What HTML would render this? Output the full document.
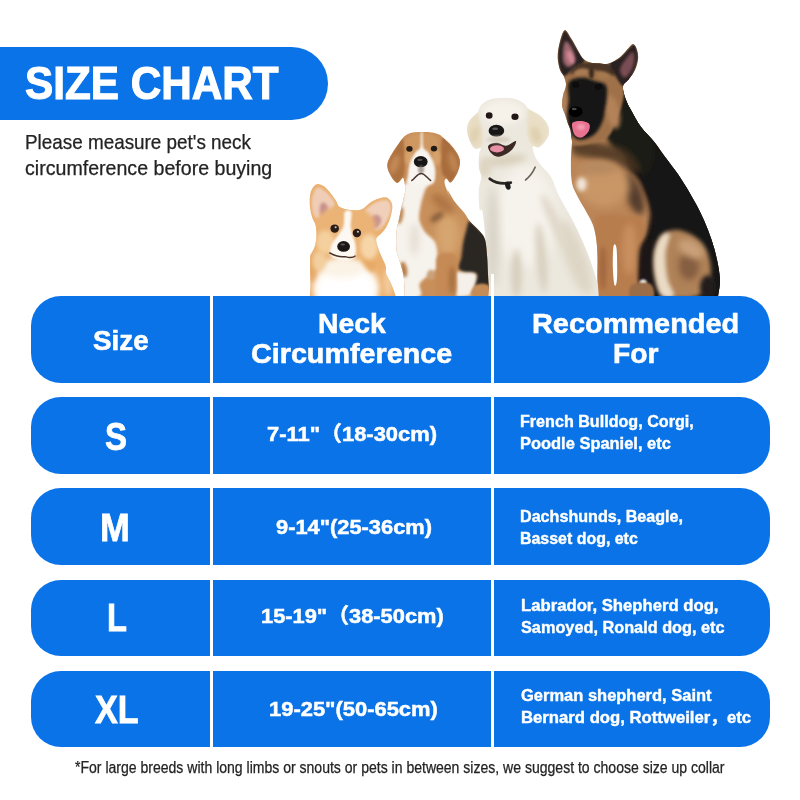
<!DOCTYPE html>
<html lang="en">
<head>
<meta charset="utf-8">
<title>Size Chart</title>
<style>
*{box-sizing:border-box;margin:0;padding:0}
html,body{width:800px;height:800px;background:#fff;overflow:hidden}
body{position:relative;font-family:"Liberation Sans","Noto Sans CJK SC",sans-serif}
.t{position:absolute;display:block;white-space:nowrap;line-height:1;transform-origin:0 0}
.b{color:#fff;font-weight:bold;-webkit-text-stroke-color:#fff}
.d{color:#232323;font-weight:normal;-webkit-text-stroke-color:#232323}
.banner{position:absolute;left:0;top:47px;width:328px;height:73px;background:#0a73e8;border-radius:0 36.4px 36.4px 0}
.row{position:absolute;left:30.5px;width:739.5px;background:#0a73e8;border-radius:30px}
.div{position:absolute;top:274px;height:478px;width:3px;background:#fff}
.dogs{position:absolute;left:0;top:0}
</style>
</head>
<body>
<header class="banner">
<h1 class="t b" style="left:25.19px;top:14.00px;font-size:45.33px;-webkit-text-stroke-width:1.1px;transform:scaleX(0.9326)">SIZE CHART</h1>
</header>
<p class="t d" style="left:24.94px;top:133.00px;font-size:19.44px;-webkit-text-stroke-width:0.25px;transform:scaleX(0.9706)">Please measure pet's neck</p>
<p class="t d" style="left:25.14px;top:159.00px;font-size:19.44px;-webkit-text-stroke-width:0.25px;transform:scaleX(1.0082)">circumference before buying</p>
<svg class="dogs" width="800" height="800" viewBox="0 0 800 800">
<defs>
<filter id="b05" x="-50%" y="-50%" width="200%" height="200%"><feGaussianBlur stdDeviation="0.5"/></filter>
<filter id="b1" x="-50%" y="-50%" width="200%" height="200%"><feGaussianBlur stdDeviation="1"/></filter>
<filter id="b15" x="-50%" y="-50%" width="200%" height="200%"><feGaussianBlur stdDeviation="1.5"/></filter>
<filter id="b2" x="-50%" y="-50%" width="200%" height="200%"><feGaussianBlur stdDeviation="2"/></filter>
<filter id="b3" x="-50%" y="-50%" width="200%" height="200%"><feGaussianBlur stdDeviation="3"/></filter>
<filter id="b4" x="-50%" y="-50%" width="200%" height="200%"><feGaussianBlur stdDeviation="4.5"/></filter>
<filter id="b6" x="-50%" y="-50%" width="200%" height="200%"><feGaussianBlur stdDeviation="6"/></filter>
<filter id="b9" x="-50%" y="-50%" width="200%" height="200%"><feGaussianBlur stdDeviation="9"/></filter>
<clipPath id="cAll"><rect x="0" y="0" width="800" height="297"/></clipPath>
<clipPath id="cC"><path d="M309.8 330.0C295.4 327.0 309.8 317.3 309.8 312.0C309.8 306.7 309.6 303.2 309.8 298.5C309.9 293.8 310.4 288.4 310.4 283.8C310.5 279.2 310.1 275.1 310.1 270.8C310.0 266.5 309.9 260.6 310.1 257.8C310.2 255.0 310.2 255.8 310.9 254.0C311.7 252.2 313.6 249.7 314.5 246.9C315.4 244.1 316.1 240.9 316.3 237.4C316.5 233.8 316.4 228.9 315.7 225.5C315.0 222.1 313.1 220.6 312.1 217.2C311.1 213.8 310.0 209.3 309.8 205.3C309.5 201.4 309.7 196.6 310.3 193.4C311.0 190.3 312.6 187.9 313.9 186.3C315.2 184.7 316.4 183.9 318.1 183.9C319.7 183.9 322.2 185.1 324.0 186.3C325.8 187.5 326.8 188.7 328.8 191.1C330.7 193.4 334.1 197.9 335.9 200.6C337.7 203.2 337.3 205.5 339.7 207.1C342.1 208.7 346.5 209.7 350.1 210.1C353.8 210.5 357.9 210.9 361.4 209.5C365.0 208.1 368.0 203.7 371.5 201.8C375.0 199.8 379.4 198.2 382.2 197.6C385.0 197.0 386.5 196.9 388.1 198.2C389.8 199.5 391.9 202.1 392.3 205.3C392.7 208.5 391.6 213.4 390.5 217.2C389.4 221.0 387.3 225.1 385.8 227.9C384.2 230.7 382.6 232.0 381.0 233.8C379.4 235.6 376.9 236.6 376.3 238.6C375.7 240.5 376.7 242.9 377.4 245.7C378.2 248.5 379.6 251.8 381.0 255.2C382.4 258.6 384.9 262.7 385.8 265.9C386.6 269.0 385.3 271.1 386.2 274.1C387.1 277.1 389.7 280.8 391.1 283.8C392.4 286.8 393.5 289.5 394.3 292.0C395.1 294.4 395.7 295.1 395.9 298.5C396.2 301.8 395.9 306.7 395.9 312.0C395.9 317.3 410.3 327.0 395.9 330.0C381.6 333.0 324.1 333.0 309.8 330.0Z"/></clipPath>
<clipPath id="cB"><path d="M404.7 330.0C390.8 327.0 404.7 317.6 404.7 312.0C404.7 306.4 404.9 301.8 404.7 296.5C404.6 291.2 404.4 284.2 404.0 280.0C403.6 275.7 403.2 274.2 402.5 271.0C401.7 267.7 400.5 264.0 399.5 260.5C398.5 257.0 397.0 254.7 396.5 250.0C396.0 245.2 396.0 237.5 396.5 232.0C397.0 226.5 398.5 222.0 399.5 217.0C400.5 212.0 402.2 203.3 402.5 202.0C402.8 200.7 401.2 210.0 401.4 209.4C401.6 208.7 403.0 201.3 403.6 198.1C404.3 194.9 405.2 193.1 405.3 190.2C405.4 187.4 404.7 183.3 404.2 181.2C403.7 179.2 403.7 177.6 402.5 177.9C401.3 178.2 398.9 183.5 396.9 182.9C394.8 182.4 391.7 177.6 390.1 174.5C388.5 171.4 386.9 167.9 387.3 164.4C387.7 160.8 389.8 157.4 392.4 153.1C394.9 148.8 399.9 141.7 402.5 138.5C405.1 135.3 406.1 135.0 408.1 134.0C410.2 133.0 412.4 132.6 414.9 132.3C417.3 132.0 419.9 132.0 422.7 132.0C425.6 132.0 429.1 132.0 431.7 132.4C434.4 132.8 436.6 133.4 438.5 134.2C440.4 135.0 440.6 135.2 443.0 137.4C445.4 139.6 450.3 143.7 453.1 147.5C455.9 151.2 459.1 155.7 459.9 159.9C460.6 164.0 459.1 168.5 457.6 172.2C456.1 176.0 452.7 181.3 450.9 182.4C449.0 183.4 447.4 178.2 446.4 178.4C445.3 178.6 444.1 180.4 444.7 183.5C445.2 186.6 449.3 195.9 449.7 197.0C450.2 198.1 446.6 189.2 447.5 190.0C448.4 190.8 452.2 198.2 455.0 202.0C457.7 205.7 461.5 209.2 464.0 212.5C466.5 215.7 467.5 218.5 470.0 221.5C472.5 224.5 476.5 227.5 479.0 230.5C481.5 233.5 483.6 235.0 485.0 239.5C486.4 244.0 486.7 251.7 487.2 257.5C487.7 263.2 487.7 269.0 488.0 274.0C488.2 279.0 488.7 283.7 488.7 287.5C488.8 291.2 488.4 292.4 488.3 296.5C488.2 300.6 488.3 306.4 488.3 312.0C488.3 317.6 502.2 327.0 488.3 330.0C474.4 333.0 418.7 333.0 404.7 330.0Z"/></clipPath>
<clipPath id="cG"><path d="M487.8 330.0C469.4 327.0 487.8 317.4 487.8 312.0C487.8 306.6 487.9 303.8 487.8 297.5C487.7 291.1 487.6 281.3 487.3 273.8C487.0 266.4 486.7 259.8 486.3 252.8C485.9 245.8 485.6 238.8 484.9 231.8C484.3 224.8 483.2 214.4 482.3 210.8C481.5 207.2 480.4 212.6 479.7 210.0C479.1 207.4 478.8 199.0 478.7 195.0C478.6 191.0 478.8 189.0 479.3 186.0C479.7 183.0 481.4 180.0 481.4 177.0C481.3 174.0 479.4 171.7 479.0 168.0C478.6 164.2 478.7 157.8 479.0 154.5C479.3 151.2 481.5 149.2 480.8 148.2C480.0 147.2 476.4 149.9 474.5 148.5C472.6 147.0 470.5 142.7 469.2 139.5C468.0 136.2 466.9 132.2 467.0 129.0C467.1 125.7 468.2 122.7 470.0 120.0C471.7 117.2 475.6 115.0 477.5 112.5C479.4 110.0 479.2 107.1 481.2 105.0C483.2 102.9 485.9 100.9 489.5 99.7C493.1 98.5 498.7 97.9 503.0 97.8C507.2 97.7 511.5 98.0 515.0 99.0C518.5 99.9 521.7 101.9 524.0 103.5C526.2 105.1 526.0 106.9 528.5 108.7C531.0 110.6 536.1 112.6 539.0 114.7C541.9 116.9 544.0 118.9 545.7 121.5C547.4 124.1 549.1 127.5 549.2 130.5C549.3 133.5 548.2 136.7 546.5 139.5C544.8 142.3 541.2 146.2 539.0 147.3C536.7 148.4 533.8 145.3 533.0 146.2C532.1 147.2 533.3 150.7 533.9 153.0C534.5 155.2 535.3 157.4 536.7 159.7C538.2 162.1 540.4 164.4 542.7 167.2C545.1 170.1 548.4 172.4 551.0 177.0C553.6 181.6 555.3 188.5 558.5 195.0C561.7 201.5 566.8 209.5 570.3 216.1C573.8 222.6 576.6 228.3 579.5 234.4C582.3 240.6 585.0 246.7 587.4 252.8C589.8 258.9 592.2 265.9 593.9 271.2C595.6 276.4 596.8 280.0 597.6 284.3C598.4 288.7 598.5 292.8 598.7 297.5C598.8 302.1 598.7 306.6 598.7 312.0C598.7 317.4 617.1 327.0 598.7 330.0C580.2 333.0 506.3 333.0 487.8 330.0Z"/></clipPath>
<clipPath id="cS"><path d="M598.6 330.0C578.7 327.0 598.6 317.0 598.6 312.0C598.6 307.0 598.7 305.5 598.6 300.0C598.4 294.5 597.7 285.8 597.5 278.7C597.3 271.7 597.7 263.9 597.5 257.5C597.3 251.1 597.1 245.8 596.4 240.5C595.7 235.2 594.8 230.2 593.2 225.6C591.7 221.0 589.4 217.5 586.9 212.9C584.4 208.3 580.9 203.0 578.4 198.0C575.9 193.0 573.2 189.1 572.0 183.1C570.8 177.1 570.9 168.6 570.9 161.9C570.9 155.1 571.9 146.8 572.0 142.7C572.1 138.7 571.5 139.6 571.2 137.5C571.0 135.4 571.1 132.5 570.5 130.0C569.9 127.5 568.4 125.0 567.5 122.5C566.6 120.0 566.1 117.7 565.2 115.0C564.4 112.2 562.6 109.2 562.2 106.0C561.9 102.7 562.4 99.0 563.0 95.5C563.6 92.0 565.9 88.2 566.0 85.0C566.1 81.7 564.7 78.5 563.7 76.0C562.7 73.5 561.0 73.0 560.0 70.0C559.0 67.0 557.9 62.2 557.7 58.0C557.6 53.7 558.1 49.1 559.2 44.5C560.4 39.9 562.5 31.2 564.5 30.2C566.5 29.2 569.1 35.4 571.2 38.5C573.4 41.6 575.4 45.7 577.2 49.0C579.1 52.2 580.4 55.7 582.5 58.0C584.6 60.2 587.2 61.6 590.0 62.5C592.7 63.4 596.0 63.0 599.0 63.2C602.0 63.4 604.5 64.7 608.0 63.7C611.5 62.7 616.5 59.9 620.0 57.2C623.5 54.5 626.7 49.7 629.0 47.5C631.2 45.3 632.1 43.7 633.5 44.2C634.9 44.7 636.5 47.9 637.2 50.5C638.0 53.0 638.4 56.2 638.0 59.5C637.6 62.7 636.5 66.7 635.0 70.0C633.5 73.2 631.0 76.2 629.0 79.0C627.0 81.7 623.5 83.0 623.0 86.5C622.5 90.0 624.5 95.7 626.0 100.0C627.5 104.2 629.5 107.5 632.0 112.0C634.5 116.5 637.2 121.9 641.0 127.0C644.8 132.1 650.8 137.6 654.9 142.7C659.0 147.9 661.6 152.3 665.5 157.6C669.4 162.9 674.4 169.0 678.2 174.6C682.1 180.3 685.3 185.6 688.9 191.6C692.4 197.6 696.3 204.4 699.5 210.7C702.7 217.1 705.5 223.5 708.0 229.9C710.5 236.2 712.6 242.6 714.4 249.0C716.1 255.4 717.7 262.5 718.6 268.1C719.5 273.8 720.1 277.7 719.9 283.0C719.7 288.3 717.9 295.2 717.6 300.0C717.2 304.8 717.6 307.0 717.6 312.0C717.6 317.0 737.4 327.0 717.6 330.0C697.7 333.0 618.4 333.0 598.6 330.0Z"/></clipPath>
</defs>
<g clip-path="url(#cAll)">
<g filter="url(#b05)"><g clip-path="url(#cS)">
<rect x="550" y="25" width="175" height="275" fill="#bb8557"/>
<path d="M615.5 82.0C613.0 85.5 621.4 82.9 623.0 95.5C624.6 108.1 622.3 143.0 625.1 157.6C628.0 172.2 635.9 174.3 640.0 183.1C644.1 192.0 648.5 202.6 649.6 210.7C650.6 218.9 648.0 225.6 646.4 232.0C644.8 238.4 641.1 237.7 640.0 249.0C638.9 260.3 625.8 291.5 640.0 300.0C654.2 308.5 710.8 317.7 725.0 300.0C739.2 282.3 732.1 218.5 725.0 193.7C717.9 169.0 693.5 165.4 682.5 151.2C671.5 137.1 666.4 121.8 659.0 109.0C651.6 96.2 645.2 79.0 638.0 74.5C630.7 70.0 618.0 78.5 615.5 82.0Z" fill="#1d1918" filter="url(#b2)"/>
<path d="M620.0 89.5C614.8 93.4 616.1 126.1 618.7 138.5C621.4 150.9 630.8 154.8 635.7 164.0C640.7 173.2 645.3 184.5 648.5 193.7C651.7 203.0 654.5 211.5 654.9 219.2C655.2 227.0 652.0 234.1 650.6 240.5C649.2 246.9 646.7 247.6 646.4 257.5C646.0 267.4 635.4 292.9 648.5 300.0C661.6 307.1 712.2 314.2 725.0 300.0C737.7 285.8 730.7 238.0 725.0 215.0C719.3 192.0 703.5 178.5 691.0 161.9C678.5 145.2 661.8 127.1 650.0 115.0C638.2 102.9 625.2 85.6 620.0 89.5Z" fill="#151312" filter="url(#b1)"/>
<path d="M615.5 88.0C611.5 88.0 612.0 102.0 611.0 109.0C610.0 116.0 610.3 125.8 609.5 130.0C608.7 134.2 605.5 131.4 606.0 134.2C606.5 137.1 608.8 143.1 612.4 147.0C615.9 150.9 621.9 152.7 627.2 157.6C632.6 162.6 639.6 177.1 644.2 176.7C648.9 176.4 653.8 163.3 654.9 155.5C655.9 147.7 653.9 137.8 650.6 130.0C647.3 122.2 640.8 116.0 635.0 109.0C629.1 102.0 619.5 88.0 615.5 88.0Z" fill="#1e1a19" filter="url(#b2)"/>
<path d="M574.1 138.5C578.2 136.7 589.0 141.0 597.5 142.7C606.0 144.5 618.0 144.9 625.1 149.1C632.2 153.4 638.9 164.4 640.0 168.2C641.1 172.1 636.8 173.6 631.5 172.5C626.2 171.4 615.6 164.4 608.1 161.9C600.7 159.4 592.7 159.0 586.9 157.6C581.0 156.2 575.2 156.6 573.1 153.4C570.9 150.2 570.1 140.3 574.1 138.5Z" fill="#4a3424" filter="url(#b3)" opacity="0.85"/>
<ellipse cx="633.6230344241394" cy="193.74840628984276" rx="8" ry="22" fill="#3a2a20" filter="url(#b3)" transform="rotate(-20 633.6230344241394 193.74840628984276)" opacity="0.8"/>
<ellipse cx="603.8737781555461" cy="185.24861878453038" rx="26" ry="22" fill="#c99666" filter="url(#b4)"/>
<ellipse cx="581.5618359541012" cy="184.18614534636635" rx="5" ry="7" fill="#f1e6da" filter="url(#b2)"/>
<ellipse cx="597.4989375265618" cy="168.24904377390564" rx="20" ry="7" fill="#b88a60" filter="url(#b3)"/>
<path d="M595.4 219.2C598.9 212.2 610.6 214.6 618.7 215.0C626.9 215.4 640.4 215.7 644.2 221.4C648.1 227.0 643.0 239.4 642.1 249.0C641.2 258.6 639.3 270.2 638.9 278.7C638.6 287.2 646.9 296.5 640.0 300.0C633.1 303.5 604.6 307.1 597.5 300.0C590.4 292.9 597.9 271.0 597.5 257.5C597.1 244.0 591.8 226.3 595.4 219.2Z" fill="#b87d4e" filter="url(#b2)"/>
<ellipse cx="629.3731406714833" cy="248.99702507437314" rx="7" ry="26" fill="#c98f5e" filter="url(#b3)"/>
<ellipse cx="602.8113047173821" cy="268.121546961326" rx="4" ry="22" fill="#a4693f" filter="url(#b2)"/>
<path d="M613.6 245.8C614.3 243.0 616.1 243.5 616.6 249.0C617.2 254.5 617.4 272.7 617.0 278.7C616.7 284.8 615.2 287.2 614.5 285.1C613.8 283.0 612.9 272.5 612.8 266.0C612.7 259.4 613.0 248.6 613.6 245.8Z" fill="#ffffff" filter="url(#b05)"/>
<ellipse cx="615.5609859753506" cy="265.99660008499785" rx="2.5" ry="20" fill="#6b4a34" filter="url(#b1)" opacity="0.0"/>
<path d="M640.0 249.0C642.1 240.5 652.0 237.7 654.9 240.5C657.7 243.3 657.0 257.5 657.0 266.0C657.0 274.5 657.4 287.2 654.9 291.5C652.4 295.7 644.6 298.6 642.1 291.5C639.6 284.4 637.9 257.5 640.0 249.0Z" fill="#1c1817" filter="url(#b2)"/>
<ellipse cx="643.1852953676158" cy="282.571185720357" rx="3.5" ry="3" fill="#ffffff" filter="url(#b1)"/>
<path d="M631.5 285.1C634.7 282.5 647.1 281.6 650.6 284.1C654.2 286.5 655.9 297.3 652.7 300.0C649.6 302.7 635.0 302.5 631.5 300.0C628.0 297.5 628.3 287.8 631.5 285.1Z" fill="#9a6d48" filter="url(#b1)"/>
<path d="M661.2 236.2C665.1 232.4 671.9 229.2 678.2 229.9C684.6 230.6 694.2 235.2 699.5 240.5C704.8 245.8 708.7 254.0 710.1 261.7C711.5 269.5 711.2 281.2 708.0 287.2C704.8 293.3 698.1 296.5 691.0 297.9C683.9 299.3 671.3 298.9 665.5 295.7C659.7 292.6 657.7 285.8 655.9 278.7C654.2 271.7 654.0 260.3 654.9 253.2C655.8 246.2 657.4 240.1 661.2 236.2Z" fill="#b08258" filter="url(#b2)"/>
<path d="M661.2 236.2C663.8 233.1 669.0 231.3 669.7 234.1C670.5 237.0 665.9 245.8 665.5 253.2C665.1 260.7 666.2 271.7 667.6 278.7C669.0 285.8 675.1 292.9 674.0 295.7C672.9 298.6 664.4 299.3 661.2 295.7C658.1 292.2 656.0 281.6 654.9 274.5C653.7 267.4 653.4 259.6 654.4 253.2C655.5 246.9 658.7 239.4 661.2 236.2Z" fill="#eadbc6" filter="url(#b2)"/>
<ellipse cx="688.8716532086698" cy="265.99660008499785" rx="10" ry="14" fill="#7a543a" filter="url(#b3)" opacity="0.8"/>
<ellipse cx="690.9966000849979" cy="248.99702507437314" rx="14" ry="8" fill="#c9a078" filter="url(#b3)" transform="rotate(30 690.9966000849979 248.99702507437314)"/>
<ellipse cx="707.9961750956226" cy="287.2460688482788" rx="8" ry="12" fill="#221d1b" filter="url(#b2)"/>
<path d="M563.7 74.5C565.4 70.7 570.6 67.6 575.0 65.5C579.4 63.4 584.5 62.1 590.0 61.7C595.5 61.4 602.5 59.4 608.0 63.2C613.5 67.1 620.5 78.9 623.0 85.0C625.5 91.1 624.0 94.5 623.0 100.0C622.0 105.5 620.0 111.5 617.0 118.0C614.0 124.5 612.7 134.5 605.0 139.0C597.2 143.5 576.7 147.7 570.5 145.0C564.2 142.2 568.9 129.0 567.5 122.5C566.1 116.0 562.6 111.7 562.2 106.0C561.9 100.2 565.0 93.2 565.2 88.0C565.5 82.7 562.1 78.2 563.7 74.5Z" fill="#9f7149" filter="url(#b1)"/>
<path d="M575.0 65.5C578.2 63.4 584.5 62.1 590.0 61.7C595.5 61.4 603.7 61.1 608.0 63.2C612.2 65.4 615.5 72.6 615.5 74.5C615.5 76.4 611.5 75.2 608.0 74.5C604.5 73.7 599.0 70.7 594.5 70.0C590.0 69.2 585.0 69.2 581.0 70.0C577.0 70.7 571.5 75.2 570.5 74.5C569.5 73.7 571.7 67.6 575.0 65.5Z" fill="#4b3526" filter="url(#b15)"/>
<ellipse cx="580.9982000899955" cy="72.24763761811909" rx="7" ry="3.5" fill="#a97c52" filter="url(#b15)" transform="rotate(-10 580.9982000899955 72.24763761811909)"/>
<ellipse cx="603.4970751462427" cy="75.24748762561872" rx="7" ry="3.5" fill="#a67a50" filter="url(#b15)" transform="rotate(15 603.4970751462427 75.24748762561872)"/>
<ellipse cx="591.4976751162442" cy="72.997600119994" rx="2.5" ry="6" fill="#3a2920" filter="url(#b1)"/>
<path d="M564.5 30.2C562.5 31.2 560.4 39.9 559.2 44.5C558.1 49.1 557.6 53.7 557.7 58.0C557.9 62.2 558.9 67.0 560.0 70.0C561.1 73.0 562.0 76.5 564.5 76.0C567.0 75.5 571.6 69.5 575.0 67.0C578.4 64.5 584.4 64.0 584.7 61.0C585.1 58.0 579.5 52.7 577.2 49.0C575.0 45.2 573.4 41.6 571.2 38.5C569.1 35.4 566.5 29.2 564.5 30.2Z" fill="#2a2120" filter="url(#b1)"/>
<path d="M565.2 41.5C564.1 42.7 563.2 48.5 563.0 52.0C562.7 55.5 562.7 60.0 563.7 62.5C564.7 65.0 567.1 67.2 569.0 67.0C570.9 66.7 574.2 63.5 575.0 61.0C575.7 58.5 574.4 54.7 573.5 52.0C572.6 49.2 571.1 46.2 569.7 44.5C568.4 42.7 566.4 40.2 565.2 41.5Z" fill="#a06870" filter="url(#b15)"/>
<ellipse cx="570.4987250637469" cy="57.24838758062097" rx="3" ry="7" fill="#d58a96" filter="url(#b15)" transform="rotate(-20 570.4987250637469 57.24838758062097)"/>
<path d="M633.5 44.2C630.6 45.3 624.0 54.1 620.0 57.2C616.0 60.4 610.2 60.1 609.5 63.2C608.7 66.4 613.2 72.2 615.5 76.0C617.7 79.7 620.6 85.4 623.0 85.7C625.4 86.1 627.7 80.9 629.7 78.2C631.7 75.6 633.6 73.1 635.0 70.0C636.4 66.9 637.6 62.7 638.0 59.5C638.4 56.2 638.0 53.0 637.2 50.5C636.5 47.9 636.4 43.1 633.5 44.2Z" fill="#2a2120" filter="url(#b1)"/>
<path d="M632.7 52.0C631.1 52.0 626.6 58.0 624.5 61.0C622.4 64.0 620.0 67.2 620.0 70.0C620.0 72.7 622.7 77.2 624.5 77.5C626.2 77.7 628.9 74.2 630.5 71.5C632.1 68.7 633.9 64.2 634.2 61.0C634.6 57.7 634.4 52.0 632.7 52.0Z" fill="#7a4e55" filter="url(#b15)"/>
<ellipse cx="612.7966101694915" cy="111.99565021748913" rx="6.5" ry="17" fill="#b38258" filter="url(#b2)" transform="rotate(-12 612.7966101694915 111.99565021748913)"/>
<ellipse cx="564.4990250487475" cy="102.99610019499025" rx="3" ry="12" fill="#b08058" filter="url(#b15)"/>
<path d="M569.0 82.0C571.3 78.2 578.2 77.7 582.5 77.5C586.7 77.3 590.6 79.5 594.5 80.8C598.4 82.0 603.7 82.3 605.7 85.0C607.8 87.7 606.9 93.0 606.8 97.0C606.7 101.0 605.7 105.0 605.0 109.0C604.3 113.0 604.4 116.9 602.7 121.0C601.1 125.1 598.6 130.6 595.2 133.7C591.9 136.9 586.1 139.2 582.5 139.7C578.9 140.2 575.8 138.9 573.5 136.7C571.2 134.6 569.7 130.6 568.7 127.0C567.6 123.4 567.2 119.5 567.2 115.0C567.2 110.5 568.4 105.5 568.7 100.0C569.0 94.5 566.7 85.7 569.0 82.0Z" fill="#171413" filter="url(#b15)"/>
<ellipse cx="575.7484625768711" cy="84.69701514924253" rx="3.4" ry="3" fill="#080707"/>
<ellipse cx="598.3973301334934" cy="86.79691015449228" rx="3.4" ry="3" fill="#080707"/>
<ellipse cx="575.7484625768711" cy="111.69566521673917" rx="7" ry="5.5" fill="#050505" filter="url(#b05)"/>
<ellipse cx="574.2485375731213" cy="108.9958002099895" rx="2.5" ry="1.2" fill="#4a4646" filter="url(#b05)"/>
<path d="M572.7 122.5C574.2 121.2 578.2 120.7 581.0 121.0C583.7 121.2 588.0 122.2 589.2 124.0C590.5 125.7 589.7 129.2 588.5 131.5C587.2 133.7 584.0 136.9 581.7 137.5C579.5 138.1 576.5 136.7 575.0 135.2C573.4 133.7 572.8 130.6 572.4 128.5C572.1 126.4 571.3 123.7 572.7 122.5Z" fill="#e8728f" filter="url(#b05)"/>
<ellipse cx="580.9982000899955" cy="126.99490025498726" rx="4" ry="3" fill="#f29ab0" filter="url(#b1)"/>
</g></g>
<g filter="url(#b05)"><g clip-path="url(#cG)">
<rect x="460" y="90" width="145" height="210" fill="#ece8de"/>
<ellipse cx="525.6512605042017" cy="216.05042016806723" rx="30" ry="50" fill="#f6f3ec" filter="url(#b6)"/>
<ellipse cx="492.82563025210084" cy="237.05882352941177" rx="6" ry="50" fill="#d8d2c6" filter="url(#b4)"/>
<ellipse cx="575.546218487395" cy="258.0672268907563" rx="10" ry="40" fill="#ddd5c5" filter="url(#b4)" transform="rotate(-20 575.546218487395 258.0672268907563)"/>
<ellipse cx="541.40756302521" cy="258.0672268907563" rx="5" ry="35" fill="#d8d0c0" filter="url(#b3)" transform="rotate(-5 541.40756302521 258.0672268907563)"/>
<ellipse cx="516.4600840336135" cy="273.82352941176475" rx="5" ry="25" fill="#d6cdbc" filter="url(#b3)"/>
<ellipse cx="554.5378151260504" cy="221.30252100840337" rx="5" ry="30" fill="#e0d8c9" filter="url(#b3)" transform="rotate(-25 554.5378151260504 221.30252100840337)"/>
<ellipse cx="504.4975251237438" cy="160.49647517624118" rx="22" ry="5" fill="#d9cfba" filter="url(#b3)" transform="rotate(-8 504.4975251237438 160.49647517624118)"/>
<ellipse cx="484.99850007499623" cy="167.99610019499025" rx="6" ry="10" fill="#ddd3c0" filter="url(#b3)"/>
<path d="M477.5 112.5C475.7 112.0 471.7 117.2 470.0 120.0C468.2 122.7 467.1 125.7 467.0 129.0C466.9 132.2 468.0 136.2 469.2 139.5C470.5 142.7 472.5 147.5 474.5 148.5C476.5 149.5 479.9 147.7 481.2 145.5C482.6 143.2 482.9 138.7 482.7 135.0C482.6 131.2 481.4 126.7 480.5 123.0C479.6 119.2 479.2 113.0 477.5 112.5Z" fill="#e8dcc2" filter="url(#b15)"/>
<path d="M528.5 108.7C530.5 107.9 536.1 112.6 539.0 114.7C541.9 116.9 544.0 118.9 545.7 121.5C547.4 124.1 549.1 127.5 549.2 130.5C549.3 133.5 548.2 136.7 546.5 139.5C544.8 142.3 541.5 146.5 539.0 147.3C536.5 148.0 533.4 146.0 531.5 144.0C529.6 141.9 528.5 139.0 527.7 135.0C527.0 131.0 526.9 124.4 527.0 120.0C527.1 115.6 526.5 109.6 528.5 108.7Z" fill="#eadfc6" filter="url(#b15)"/>
<ellipse cx="535.9959502024899" cy="134.99775011249437" rx="5" ry="9" fill="#dfd0b0" filter="url(#b2)" transform="rotate(-20 535.9959502024899 134.99775011249437)"/>
<ellipse cx="474.49902504874757" cy="134.99775011249437" rx="4" ry="9" fill="#dfd0b0" filter="url(#b2)" transform="rotate(15 474.49902504874757 134.99775011249437)"/>
<ellipse cx="502.997600119994" cy="112.49887505624719" rx="22" ry="12" fill="#f6f2ea" filter="url(#b3)"/>
<path d="M489.8 178.8 Q498.5 185.2 510.8 182.7" stroke="#2a2523" stroke-width="2.8" fill="none" stroke-linecap="round"/>
<path d="M525.5 180.0 Q531.5 175.5 535.2 167.2" stroke="#4a413a" stroke-width="1.6" fill="none" stroke-linecap="round" opacity="0.8"/>
<ellipse cx="507.7973601319934" cy="185.69521523923805" rx="2.6" ry="4.2" fill="#1f1b1a" transform="rotate(-15 507.7973601319934 185.69521523923805)"/>
<ellipse cx="489.1982900854957" cy="115.49872506374682" rx="3.4" ry="3.3" fill="#231915"/>
<ellipse cx="514.9970001499925" cy="116.69866506674666" rx="3.6" ry="3.3" fill="#231915"/>
<ellipse cx="496.39793010349484" cy="130.7979601019949" rx="7.8" ry="6" fill="#171312" filter="url(#b05)"/>
<ellipse cx="495.19799010049496" cy="128.69806509674515" rx="3" ry="1.3" fill="#5a5655" filter="url(#b05)"/>
<path d="M488.3 145.8C489.3 144.1 494.0 142.8 497.0 142.8C499.9 142.8 502.9 146.1 506.0 145.8C509.1 145.5 514.5 140.7 515.7 141.0C517.0 141.3 515.0 145.6 513.5 147.7C512.0 149.9 509.4 152.2 506.7 153.7C504.1 155.2 500.4 156.9 497.7 156.7C495.1 156.6 492.6 154.8 491.0 153.0C489.4 151.2 487.3 147.5 488.3 145.8Z" fill="#3b2a27" filter="url(#b05)"/>
<ellipse cx="496.99790010499476" cy="148.79706014699264" rx="7" ry="3.6" fill="#e890a6" filter="url(#b05)"/>
<ellipse cx="498.49782510874456" cy="139.4975251237438" rx="12" ry="3" fill="#d8cfc0" filter="url(#b15)"/>
</g></g>
<g filter="url(#b05)"><g clip-path="url(#cB)">
<rect x="380" y="125" width="115" height="175" fill="#c88f5a"/>
<ellipse cx="447.49662516874156" cy="234.99775011249437" rx="12" ry="22" fill="#d6a570" filter="url(#b4)"/>
<ellipse cx="436.9971501424929" cy="216.9986500674966" rx="8" ry="3.5" fill="#7a5434" filter="url(#b2)" transform="rotate(-35 436.9971501424929 216.9986500674966)" opacity="0.8"/>
<ellipse cx="442.99685015749213" cy="203.4993250337483" rx="14" ry="6" fill="#a8703f" filter="url(#b3)" transform="rotate(40 442.99685015749213 203.4993250337483)" opacity="0.8"/>
<path d="M470.0 220.7C467.6 220.7 467.4 226.9 466.2 230.5C465.1 234.1 464.1 238.0 463.2 242.5C462.4 247.0 462.0 253.2 461.3 257.5C460.5 261.7 458.0 265.4 458.7 268.0C459.4 270.5 462.6 271.8 465.5 272.8C468.4 273.8 474.4 271.8 476.0 274.0C477.5 276.2 472.3 284.0 474.8 286.0C477.3 288.0 488.3 293.7 491.0 286.0C493.7 278.2 492.7 248.7 491.0 239.5C489.2 230.2 484.0 233.6 480.5 230.5C477.0 227.4 472.4 220.7 470.0 220.7Z" fill="#2a2523" filter="url(#b15)"/>
<path d="M455.0 274.0C456.5 270.2 460.5 272.4 464.0 272.5C467.5 272.5 474.2 272.0 476.0 274.3C477.7 276.5 475.5 282.5 474.5 286.0C473.5 289.4 473.2 293.5 470.0 295.0C466.7 296.5 457.5 298.5 455.0 295.0C452.5 291.5 453.5 277.7 455.0 274.0Z" fill="#f5f0e9" filter="url(#b15)"/>
<path d="M474.5 286.0C476.2 284.1 479.5 283.7 482.0 283.7C484.5 283.7 488.2 284.1 489.5 286.0C490.7 287.9 492.5 293.5 489.5 295.0C486.5 296.5 474.0 296.5 471.5 295.0C469.0 293.5 472.7 287.9 474.5 286.0Z" fill="#c48c58" filter="url(#b1)"/>
<path d="M405.3 183.5C409.4 180.9 424.0 182.4 427.2 183.5C430.5 184.6 426.1 186.4 425.0 190.0C423.9 193.6 421.7 200.0 420.8 205.0C419.8 210.0 418.6 215.5 419.3 220.0C420.0 224.5 422.3 228.2 425.0 232.0C427.6 235.7 433.1 238.2 435.2 242.5C437.3 246.7 437.4 253.2 437.7 257.5C438.0 261.7 438.2 265.2 437.0 268.0C435.7 270.7 433.1 271.4 430.2 274.0C427.4 276.6 421.5 280.0 419.7 283.7C418.0 287.5 424.1 294.4 419.7 296.5C415.4 298.6 397.9 306.7 393.5 296.5C389.1 286.2 392.7 248.2 393.5 235.0C394.2 221.7 396.5 223.0 398.0 217.0C399.5 211.0 401.3 204.6 402.5 199.0C403.7 193.4 401.2 186.1 405.3 183.5Z" fill="#f6f2ec" filter="url(#b15)"/>
<ellipse cx="400.2489875506225" cy="215.4987250637468" rx="3" ry="9" fill="#c08856" filter="url(#b15)" transform="rotate(10 400.2489875506225 215.4987250637468)"/>
<ellipse cx="403.69881505924707" cy="269.4960251987401" rx="3.5" ry="8" fill="#b8804e" filter="url(#b15)" transform="rotate(-10 403.69881505924707 269.4960251987401)"/>
<ellipse cx="430.9974501274936" cy="274.7457627118644" rx="4" ry="5" fill="#c9a27c" filter="url(#b15)"/>
<ellipse cx="414.4982750862457" cy="239.4975251237438" rx="5" ry="16" fill="#e7e0d6" filter="url(#b3)"/>
<path d="M437.7 256.0C440.8 252.7 451.9 251.5 455.0 254.5C458.1 257.5 456.5 267.0 456.5 274.0C456.5 281.0 458.2 292.7 455.0 296.5C451.7 300.2 440.0 300.2 437.0 296.5C433.9 292.7 436.6 280.7 436.7 274.0C436.8 267.2 434.7 259.2 437.7 256.0Z" fill="#c58a55" filter="url(#b15)"/>
<ellipse cx="451.996400179991" cy="279.99550022498875" rx="3" ry="14" fill="#a8703f" filter="url(#b2)"/>
<path d="M402.5 138.5C400.5 138.5 394.9 148.8 392.4 153.1C389.8 157.4 387.7 160.8 387.3 164.4C386.9 167.9 388.5 171.4 390.1 174.5C391.7 177.6 394.8 182.4 396.9 182.9C398.9 183.5 401.2 180.0 402.5 177.9C403.8 175.7 404.2 174.1 404.5 170.0C404.8 165.9 404.5 158.4 404.2 153.1C403.8 147.9 404.5 138.5 402.5 138.5Z" fill="#ad7141" filter="url(#b1)"/>
<ellipse cx="394.6248171897851" cy="164.37450781865226" rx="4" ry="10" fill="#c48a58" filter="url(#b2)" transform="rotate(20 394.6248171897851 164.37450781865226)"/>
<path d="M443.0 137.4C445.0 136.4 450.3 143.7 453.1 147.5C455.9 151.2 459.1 155.7 459.9 159.9C460.6 164.0 459.1 168.5 457.6 172.2C456.1 176.0 452.7 181.4 450.9 182.4C449.0 183.3 447.9 179.6 446.4 177.9C444.9 176.2 442.7 176.4 441.9 172.2C441.0 168.1 441.1 158.9 441.3 153.1C441.5 147.3 441.0 138.3 443.0 137.4Z" fill="#a96d3d" filter="url(#b1)"/>
<ellipse cx="453.12408594892565" cy="162.1245359433007" rx="4" ry="11" fill="#bf8552" filter="url(#b2)" transform="rotate(-15 453.12408594892565 162.1245359433007)"/>
<ellipse cx="421.6244796940038" cy="142.99977500281247" rx="17" ry="10" fill="#cf9862" filter="url(#b15)"/>
<ellipse cx="409.24963437957024" cy="157.6245921925976" rx="4" ry="8" fill="#d7a36c" filter="url(#b15)"/>
<ellipse cx="436.24929688378893" cy="157.6245921925976" rx="4" ry="8" fill="#d7a36c" filter="url(#b15)"/>
<path d="M420.9 132.9C421.3 130.4 422.1 130.4 422.5 132.9C422.9 135.3 422.3 144.2 423.3 147.5C424.3 150.8 426.6 149.7 428.4 152.6C430.2 155.4 433.1 160.5 434.2 164.4C435.4 168.2 435.6 172.4 435.3 175.6C435.1 178.8 435.3 181.7 432.9 183.5C430.4 185.3 424.7 186.3 420.5 186.3C416.3 186.3 409.7 185.3 407.6 183.5C405.5 181.7 407.6 178.8 407.9 175.6C408.2 172.4 408.3 168.2 409.5 164.4C410.7 160.5 413.3 155.4 415.1 152.6C416.9 149.7 419.3 150.8 420.3 147.5C421.2 144.2 420.6 135.3 420.9 132.9Z" fill="#f8f4ef" filter="url(#b1)"/>
<ellipse cx="409.4746315671054" cy="148.8497018787265" rx="3.2" ry="2.9" fill="#241a16"/>
<ellipse cx="433.9993250084374" cy="148.62470469119137" rx="3.2" ry="2.9" fill="#241a16"/>
<ellipse cx="420.7244909438632" cy="161.6745415682304" rx="6.9" ry="5.7" fill="#181414" filter="url(#b05)"/>
<ellipse cx="419.93700078749015" cy="159.87456406794917" rx="2.6" ry="1.2" fill="#555050" filter="url(#b05)"/>
<ellipse cx="421.0619867251659" cy="169.43694453819327" rx="3" ry="4" fill="#8a7a74" filter="url(#b1)" opacity="0.7"/>
<path d="M411.3 180.9 C416.0 177.9 417.1 173.4 421.1 173.4 C425.0 173.4 426.7 177.9 431.2 180.9" stroke="#4a3630" stroke-width="1.5" fill="none"/>
</g></g>
<g filter="url(#b05)"><g clip-path="url(#cC)">
<rect x="300" y="180" width="100" height="120" fill="#ebb070"/>
<ellipse cx="346" cy="288" rx="33" ry="27" fill="#fefbf5" filter="url(#b3)"/>
<ellipse cx="346" cy="292" rx="28" ry="22" fill="#ffffff" filter="url(#b3)"/>
<ellipse cx="342" cy="268" rx="22" ry="10" fill="#fbf3e6" filter="url(#b3)"/>
<ellipse cx="312" cy="268" rx="3.5" ry="14" fill="#e3a868" filter="url(#b2)"/>
<ellipse cx="388" cy="282" rx="5" ry="14" fill="#f2c998" filter="url(#b2)"/>
<ellipse cx="369" cy="262" rx="5" ry="11" fill="#e6a964" filter="url(#b2)" transform="rotate(-25 369 262)"/>
<path d="M318.1 187.5C315.6 187.9 313.7 192.6 312.7 195.8C311.7 199.0 311.7 202.9 312.1 206.5C312.5 210.1 313.3 215.2 315.1 217.2C316.9 219.2 320.1 219.6 322.8 218.4C325.5 217.2 329.1 212.5 331.1 210.1C333.1 207.6 335.3 206.3 334.7 203.5C334.1 200.8 330.3 196.1 327.6 193.4C324.8 190.8 320.5 187.1 318.1 187.5Z" fill="#efcdb6" filter="url(#b1)"/>
<path d="M321.6 202.9C320.6 203.9 319.8 207.7 319.8 210.1C319.8 212.4 320.5 216.4 321.6 217.2C322.7 218.0 325.3 216.2 326.4 214.8C327.5 213.4 328.3 210.7 328.2 208.9C328.1 207.1 326.9 205.1 325.8 204.1C324.7 203.1 322.6 202.0 321.6 202.9Z" fill="#c48e8c" filter="url(#b15)"/>
<path d="M386.9 200.6C384.8 200.0 380.6 200.6 377.4 201.8C374.3 202.9 370.1 205.9 367.9 207.7C365.8 209.5 364.2 209.9 364.4 212.4C364.6 215.0 367.2 220.2 369.1 223.1C371.1 226.1 373.7 230.1 376.3 230.3C378.8 230.5 382.3 227.1 384.6 224.3C386.8 221.5 388.9 216.8 389.9 213.6C390.9 210.5 391.0 207.5 390.5 205.3C390.0 203.1 389.1 201.2 386.9 200.6Z" fill="#f0d0ba" filter="url(#b1)"/>
<path d="M376.3 214.8C374.5 214.8 371.4 216.8 370.3 218.4C369.2 220.0 368.9 222.6 369.7 224.3C370.5 226.0 373.4 228.5 375.1 228.5C376.8 228.5 378.8 226.0 379.8 224.3C380.8 222.6 381.6 220.0 381.0 218.4C380.4 216.8 378.0 214.8 376.3 214.8Z" fill="#c9928f" filter="url(#b15)"/>
<ellipse cx="345.38004750593825" cy="225.50593824228028" rx="30" ry="20" fill="#ebb376" filter="url(#b2)"/>
<ellipse cx="325.1900237529691" cy="242.1330166270784" rx="9" ry="12" fill="#f4d09e" filter="url(#b2)"/>
<ellipse cx="369.1330166270784" cy="246.88361045130642" rx="9" ry="13" fill="#f6d6a8" filter="url(#b2)"/>
<ellipse cx="319.25178147268406" cy="261.1353919239905" rx="7" ry="10" fill="#f3cf9f" filter="url(#b2)"/>
<path d="M344.8 211.8C346.1 209.6 350.3 209.6 351.3 211.8C352.3 214.1 350.5 221.6 350.7 225.5C350.9 229.4 351.7 231.8 352.5 235.0C353.3 238.2 355.0 241.1 355.5 244.5C356.0 247.9 356.4 252.6 355.5 255.2C354.6 257.8 352.8 259.2 350.1 259.9C347.5 260.7 342.7 260.7 339.4 259.9C336.2 259.2 331.8 257.8 330.5 255.2C329.2 252.6 330.4 247.9 331.7 244.5C333.0 241.1 336.3 238.2 338.3 235.0C340.2 231.8 342.5 229.4 343.6 225.5C344.7 221.6 343.5 214.1 344.8 211.8Z" fill="#fdf9f2" filter="url(#b1)"/>
<ellipse cx="334.69121140142516" cy="228.5938242280285" rx="4.3" ry="4.2" fill="#2a1a12"/>
<ellipse cx="356.9002375296912" cy="232.98812351543944" rx="4.2" ry="4.2" fill="#2a1a12"/>
<ellipse cx="335.6413301662708" cy="227.2874109263658" rx="1.1" ry="1.0" fill="#c9c2bd"/>
<ellipse cx="357.96912114014253" cy="231.68171021377674" rx="1.1" ry="1.0" fill="#c9c2bd"/>
<ellipse cx="343.5985748218527" cy="246.4085510688836" rx="6.4" ry="5.3" fill="#1c1514" filter="url(#b05)"/>
<ellipse cx="342.76722090261285" cy="244.5083135391924" rx="2.4" ry="1.1" fill="#5c5757" filter="url(#b05)"/>
<path d="M329.3 252.6 C334.7 255.8 340.6 257.3 345.4 256.6 C348.9 257.8 352.5 258.2 355.5 255.8" stroke="#4a3328" stroke-width="1.4" fill="none"/>
</g></g>
</g>
</svg>
<section class="chart">
<div class="row" style="top:296.25px;height:87px">
<span class="t b" style="left:62.46px;top:29.75px;font-size:28.44px;-webkit-text-stroke-width:0.6px;transform:scaleX(0.9767)">Size</span>
<span class="t b" style="left:287.66px;top:12.75px;font-size:28.44px;-webkit-text-stroke-width:0.6px;transform:scaleX(0.9955)">Neck</span>
<span class="t b" style="left:220.99px;top:42.75px;font-size:28.44px;-webkit-text-stroke-width:0.6px;transform:scaleX(1.0099)">Circumference</span>
<span class="t b" style="left:501.12px;top:12.75px;font-size:28.44px;-webkit-text-stroke-width:0.6px;transform:scaleX(1.0162)">Recommended</span>
<span class="t b" style="left:582.51px;top:42.75px;font-size:28.44px;-webkit-text-stroke-width:0.6px;transform:scaleX(0.9932)">For</span>
</div>
<div class="row" style="top:397.25px;height:77px">
<span class="t b" style="left:74.31px;top:19.75px;font-size:39.26px;-webkit-text-stroke-width:0.8px;transform:scaleX(0.8408)">S</span>
<span class="t b" style="left:236.73px;top:26.75px;font-size:20.89px;-webkit-text-stroke-width:0.5px;transform:scaleX(1.0498)">7-11&quot;（18-30cm)</span>
<span class="t b" style="left:489.76px;top:15.75px;font-size:16.43px;-webkit-text-stroke-width:0.4px;transform:scaleX(0.9815)">French Bulldog, Corgi,</span>
<span class="t b" style="left:489.75px;top:37.75px;font-size:16.43px;-webkit-text-stroke-width:0.4px;transform:scaleX(1.0017)">Poodle Spaniel, etc</span>
</div>
<div class="row" style="top:488.4px;height:76.2px">
<span class="t b" style="left:69.90px;top:19.60px;font-size:39.26px;-webkit-text-stroke-width:0.8px;transform:scaleX(0.9098)">M</span>
<span class="t b" style="left:245.23px;top:28.60px;font-size:20.89px;-webkit-text-stroke-width:0.5px;transform:scaleX(1.0456)">9-14&quot;(25-36cm)</span>
<span class="t b" style="left:489.76px;top:19.60px;font-size:16.43px;-webkit-text-stroke-width:0.4px;transform:scaleX(0.9815)">Dachshunds, Beagle,</span>
<span class="t b" style="left:489.77px;top:41.60px;font-size:16.43px;-webkit-text-stroke-width:0.4px;transform:scaleX(0.9705)">Basset dog, etc</span>
</div>
<div class="row" style="top:579.6px;height:76.4px">
<span class="t b" style="left:76.12px;top:18.40px;font-size:39.26px;-webkit-text-stroke-width:0.8px;transform:scaleX(0.8333)">L</span>
<span class="t b" style="left:230.45px;top:26.40px;font-size:20.89px;-webkit-text-stroke-width:0.5px;transform:scaleX(1.0462)">15-19&quot;（38-50cm)</span>
<span class="t b" style="left:490.74px;top:17.40px;font-size:16.43px;-webkit-text-stroke-width:0.4px;transform:scaleX(1.0163)">Labrador, Shepherd dog,</span>
<span class="t b" style="left:490.25px;top:39.40px;font-size:16.43px;-webkit-text-stroke-width:0.4px;transform:scaleX(0.9915)">Samoyed, Ronald dog, etc</span>
</div>
<div class="row" style="top:670.6px;height:76.4px">
<span class="t b" style="left:64.22px;top:19.40px;font-size:39.26px;-webkit-text-stroke-width:0.8px;transform:scaleX(0.8714)">XL</span>
<span class="t b" style="left:238.95px;top:28.40px;font-size:20.89px;-webkit-text-stroke-width:0.5px;transform:scaleX(1.0503)">19-25&quot;(50-65cm)</span>
<span class="t b" style="left:490.50px;top:16.40px;font-size:16.43px;-webkit-text-stroke-width:0.4px;transform:scaleX(1.0040)">German shepherd, Saint</span>
<span class="t b" style="left:490.74px;top:38.40px;font-size:16.43px;-webkit-text-stroke-width:0.4px;transform:scaleX(1.0166)">Bernard dog, Rottweiler，etc</span>
</div>
<div class="div" style="left:210.4px"></div>
<div class="div" style="left:491.4px"></div>
</section>
<p class="t d" style="left:75.00px;top:760.00px;font-size:15.84px;-webkit-text-stroke-width:0.25px;transform:scaleX(0.8863)">*For large breeds with long limbs or snouts or pets in between sizes, we suggest to choose size up collar</p>
</body>
</html>
